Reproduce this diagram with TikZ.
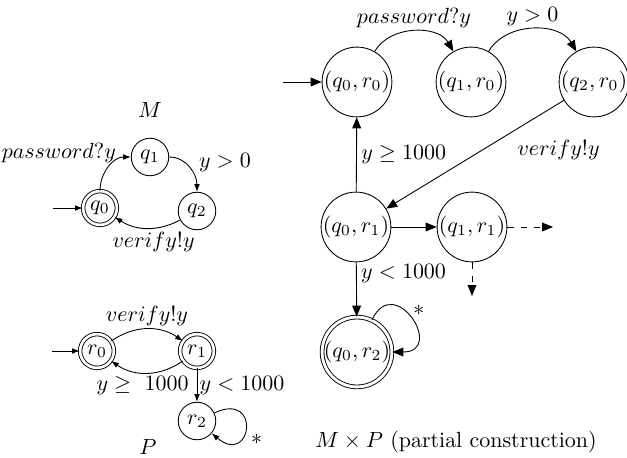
\documentclass[tikz,border=0pt]{standalone}
\usepackage{amsmath}
\usepackage{tikz}
\usetikzlibrary{arrows.meta, positioning}

\begin{document}
\begin{tikzpicture}[x=0.016cm, y=-0.016cm,
  st/.style={draw, circle, minimum size=0.6cm, inner sep=0pt},
  acc/.style={st, double, double distance=1.2pt, minimum size=0.54cm},
  pst/.style={draw, circle, minimum size=0.93cm, inner sep=0pt},
  pacc/.style={pst, double, double distance=1.3pt, minimum size=0.88cm},
  arr/.style={-{Latex[length=3.5pt, width=2.6pt]}},
  parr/.style={-{Triangle[length=5pt, width=4pt]}},
  lbl/.style={inner sep=1.5pt}
]
  \useasboundingbox (0,0) rectangle (627,458);

  % Automaton M
  \node (mname) at (150,110) {$M$};
  \node[acc] (q0) at (100,208) {$q_0$};
  \node[st] (q1) at (150,157) {$q_1$};
  \node[st] (q2) at (197,211) {$q_2$};
  \coordinate (qin) at (53,208);
  \draw[arr] (qin) -- (q0);
  \draw[arr] (q0) to[out=90, in=180]
    node[pos=0.75, left, inner sep=1pt, yshift=3pt] {$password?y$} (q1);
  \draw[arr] (q1) to[out=0, in=90]
    node[pos=0.35, right=3pt] {$y>0$} (q2);
  \draw[arr] (q2) to[bend left=30]
    node[below, lbl, xshift=3pt] {$verify!y$} (q0);

  % Automaton P
  \node[acc] (r0) at (97,351) {$r_0$};
  \node[acc] (r1) at (197,351) {$r_1$};
  \node[st] (r2) at (197,421) {$r_2$};
  \node (pname) at (148,447) {$P$};
  \coordinate (rin) at (52,351);
  \draw[arr] (rin) -- (r0);
  \draw[arr] (r0) to[bend left=35]
    node[above, lbl] {$verify!y$} (r1);
  \draw[arr] (r1) to[bend left=35]
    node[below, lbl, xshift=-2pt] {$y \geq\ 1000$} (r0);
  \draw[arr] (r1) -- node[right, inner sep=1pt] {$y<1000$} (r2);
  \draw[arr] (r2) to[out=25, in=-40, looseness=6.5]
    node[pos=0.7, right=2pt] {$*$} (r2);

  % Product M x P
  \node[pst] (q0r0) at (357,82) {$(q_0,r_0)$};
  \node[pst] (q1r0) at (471,82) {$(q_1,r_0)$};
  \node[pst] (q2r0) at (594,82) {$(q_2,r_0)$};
  \node[pst] (q0r1) at (356,227) {$(q_0,r_1)$};
  \node[pst] (q1r1) at (472,227) {$(q_1,r_1)$};
  \node[pacc] (q0r2) at (357,352) {$(q_0,r_2)$};
  \coordinate (pin) at (283,82);
  \coordinate (rgt) at (553,227);
  \coordinate (dwn) at (472,296);
  \draw[parr] (pin) -- (q0r0);
  \draw[parr] (q0r0) to[out=60, in=120]
    node[above, lbl] {$password?y$} (q1r0);
  \draw[parr] (q1r0) to[out=60, in=120]
    node[above, lbl] {$y>0$} (q2r0);
  \draw[parr] (q2r0) --
    node[pos=0.3, below right, inner sep=3pt] {$verify!y$} (q0r1);
  \draw[parr] (q0r1) -- node[right, inner sep=2pt] {$y \geq 1000$} (q0r0);
  \draw[parr] (q0r1) -- (q1r1);
  \draw[parr, dashed] (q1r1) -- (rgt);
  \draw[parr, dashed] (q1r1) -- (dwn);
  \draw[parr] (q0r1) --
    node[pos=0.2, right, inner sep=2pt] {$y<1000$} (q0r2);
  \draw[parr] (q0r2) to[out=65, in=0, looseness=3.6]
    node[pos=0.5, above right, inner sep=1pt] {$*$} (q0r2);

  % Caption
  \node (prod) at (456,442) {$M \times P$ (partial construction)};
\end{tikzpicture}
\end{document}
